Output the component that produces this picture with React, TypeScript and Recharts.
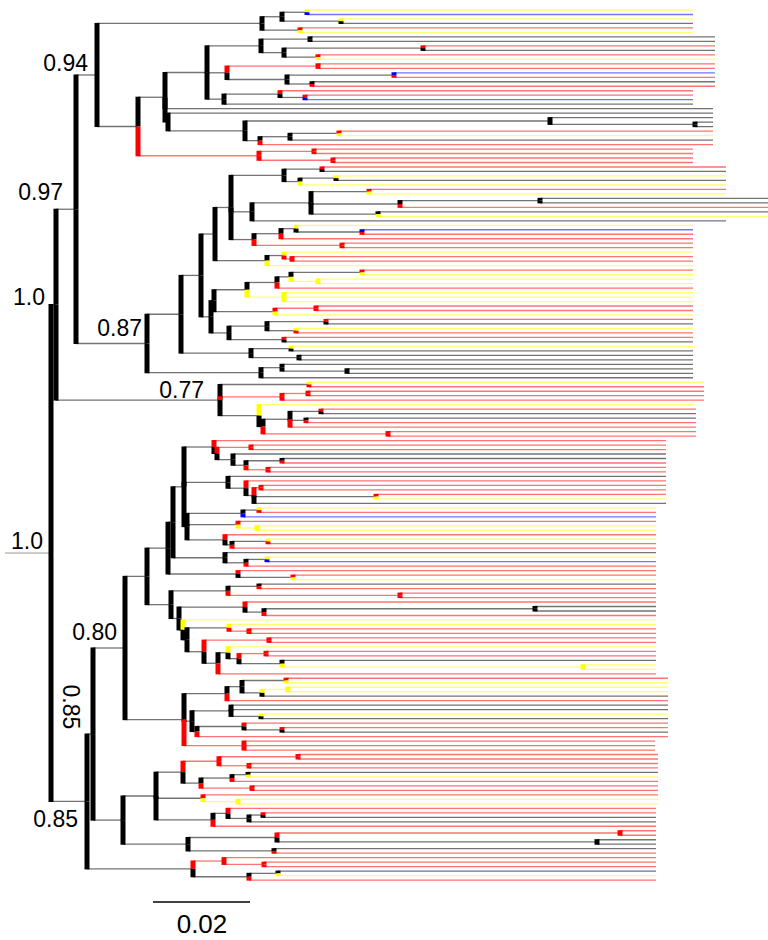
import React from 'react';
import { ComposedChart, XAxis, YAxis, Scatter, ReferenceLine } from 'recharts';

// leaf states top to bottom: k = black, r = red, y = yellow, b = blue
const leafStates = [
  'y','b','y','k','r','y','k','k','r','k',
  'r','y','r','r','b','r','k','r','r','r',
  'b','k','k','k','k','k','k','r','y','k',
  'r','r','r','r','r','r','k','y','k','y',
  'r','y','k','k','r','k','y','k','y','b',
  'r','r','r','r','y','r','r','y','r','y',
  'y','y','r','y','y','y','r','r','y','r',
  'k','y','r','r','k','y','k','k','k','k',
  'k','k','k','y','r','r','r','r','y','r',
  'k','k','r','r','r','r','r','r','r','k',
  'k','r','r','r','k','r','r','r','r','y',
  'k','y','r','b','r','y','y','r','y','r',
  'r','k','y','b','r','r','r','y','k','r',
  'r','r','r','k','k','r','y','y','r','r',
  'r','r','y','r','r','k','y','y','r','r',
  'y','y','y','k','r','k','k','y','k','r',
  'r','k','r','r','r','r','r','r','r','r',
  'k','y','r','r','r','r','y','y','r','r',
  'k','k','r','r','r','k','k','k','r','r',
  'r','r','k','y','r',
];

// leaf tip depth (tree units, the 0.02 scale bar is 97 units long)
const leafTips = [
  693,693,693,693,693,693,715,715,715,715,
  715,715,715,715,715,715,715,715,693,693,
  693,693,713,713,713,713,713,713,713,713,
  713,693,693,693,693,726,726,726,726,726,
  726,726,775,775,775,775,775,726,693,693,
  693,693,693,693,693,693,693,693,693,693,
  693,693,693,693,693,693,693,693,693,693,
  693,693,693,693,693,693,693,693,693,693,
  693,693,693,704,704,704,704,704,693,696,
  696,696,696,696,696,696,666,666,666,666,
  666,666,666,666,666,666,666,666,666,666,
  666,656,656,656,656,656,656,656,656,656,
  656,656,656,656,656,656,656,656,656,656,
  656,656,656,656,656,656,656,656,656,656,
  656,656,656,656,656,656,656,656,656,668,
  668,668,668,668,668,668,668,668,668,668,
  668,668,668,655,655,655,658,658,658,658,
  658,658,658,658,658,658,658,658,656,656,
  656,656,656,656,656,656,656,656,656,656,
  656,656,656,656,656,
];

// topology: '#' = next leaf, number after ')' = node depth
const clade094 =
  '((((#,#)307,(#,#)341)282,(#,#)300)262,(((((#,#)310,((#,#)423,(#,#)318)284)261,' +
  '((#,#)318,((#,#)394,(#,#)312)287)227,((#,(#,#)305)280,#)224)207,#,' +
  '(#,((#,(#,#)695)550,(((#,#)339,#)290,#)260)245)168)165,((#,#)314,(#,#)333)259)138)97';

const sub231 =
  '(((#,#)322,((#,#)336,#)300)284,(((#,#)369,((#,#)540,#)400,(#,#)378)311,#)252,' +
  '(((#,(#,#)362)296,#)281,(#,#)342)254)231';
const sub210 =
  '((((((#,#)362,(#,#)318)291,#)277,(#,#,#)284)247,((#,#)316,#)275)214,' +
  '(((#,#)326,(#,#)296)267,(#,#)284)229)211';
const clade087 =
  `((((${sub231},((#,(#,#)292)284,#)267)215,${sub210})201,((#,#)291,(#,#)299)251)181,` +
  '((#,(#,#)347)282,#)261)147';

const clade077 = '((#,#)309,((#,#)308,#)282,(#,(((#,#)321,(#,#)306,#)290,(#,#)388)263)259)220';

const sub184 =
  '((#,((#,#)251,(#,((#,#)282,(#,#)268)246)233)217)214,' +
  '(#,(#,((#,#)261,(#,#)376,#)254)246)228,' +
  '(((#,#)259,#)243,(#,(#,#)257)238,(#,((#,#)268,#)232)225)187)184';
const sub171 =
  '(((#,#)259,(#,#)400)228,((#,((#,#)535,#)264)245,(#,((#,(#,#)249)229,' +
  '((#,#)269,((#,((#,#)266,(#,(#,#)583)282)239)228,#)218)204)187)183)179)171';
const sub184b =
  '((((#,#)286,((#,#)288,#)262)242,#)227,((#,#,(#,#)261)231,((#,(#,#)282)244,#)197)192,(#,#,#)244)184';
const clade080 =
  `((((${sub184},(#,((#,#)267,#)246)225)173,(#,(#,#)293)238)168,${sub171})147,${sub184b})125`;

const clade123 =
  '(((((#,#)298,(#,#)249)219,(((#,#)248,#)232,(#,#)252)201)183,(#,(#,#)238)203,' +
  '((#,((#,#)263,#)249)228,#)213)156,(((#,#)620,(#,#)597)277,(#,#)274)188)123';

const clade193 = '((#,(#,#)264)224,((#,#)278,#)249)193';

const treeSource = `(((${clade094},${clade087})76,${clade077})56,((${clade080},${clade123})93,${clade193})87)51`;

// support values and scale bar text (x in tree units, row = leaf row)
const supportLabels = [
  { x: 88, row: 13.6, text: '0.94', size: 23, anchor: 'end', rotate: 0 },
  { x: 63, row: 42.36, text: '0.97', size: 23, anchor: 'end', rotate: 0 },
  { x: 45, row: 65.77, text: '1.0', size: 23, anchor: 'end', rotate: 0 },
  { x: 142, row: 72.69, text: '0.87', size: 23, anchor: 'end', rotate: 0 },
  { x: 204, row: 86.51, text: '0.77', size: 23, anchor: 'end', rotate: 0 },
  { x: 43, row: 120.18, text: '1.0', size: 23, anchor: 'end', rotate: 0 },
  { x: 117, row: 140.47, text: '0.80', size: 23, anchor: 'end', rotate: 0 },
  { x: 71, row: 155.4, text: '0.85', size: 23, anchor: 'middle', rotate: 90 },
  { x: 78, row: 182.16, text: '0.85', size: 23, anchor: 'end', rotate: 0 },
  { x: 202, row: 205.8, text: '0.02', size: 26, anchor: 'middle', rotate: 0 },
];

const SCALE_BAR = { x: 153, length: 97, row: 198.9 };
const STEM_START = 5;

const COLORS: Record<string, string> = { k: '#000000', r: '#ff0000', y: '#ffff00', b: '#0000ff' };
const W = 768;
const H = 940;
const ROW_PX = 4.485;
const FIRST_ROW_PX = 10;
const FONT = '"Liberation Sans", Arial, sans-serif';

type TreeNode = { x: number; row: number; state: string; children: TreeNode[] };

function parseTree(src: string): TreeNode {
  let pos = 0;
  let leaf = 0;
  const num = () => {
    const m = /^[0-9.]+/.exec(src.slice(pos));
    if (!m) return 0;
    pos += m[0].length;
    return parseFloat(m[0]);
  };
  const read = (): TreeNode => {
    if (src[pos] === '(') {
      pos++;
      const children: TreeNode[] = [];
      for (;;) {
        children.push(read());
        if (src[pos] === ',') { pos++; continue; }
        break;
      }
      pos++;
      const x = num();
      const row = (children[0].row + children[children.length - 1].row) / 2;
      const s = children[0].state;
      const state = children.every((c) => c.state === s) ? s : 'k';
      return { x, row, state, children };
    }
    pos++;
    const i = leaf++;
    return { x: leafTips[i], row: i, state: leafStates[i], children: [] };
  };
  return read();
}

const root = parseTree(treeSource.replace(/\s/g, ''));

type Seg = { x1: number; y1: number; x2: number; y2: number; color: string };
const lines: Seg[] = [];
const bars: Seg[] = [];
const walk = (n: TreeNode) => {
  n.children.forEach((c) => {
    lines.push({ x1: n.x, y1: c.row, x2: c.x, y2: c.row, color: COLORS[c.state] });
    const dir = c.row >= n.row ? 1 : -1;
    bars.push({ x1: n.x, y1: n.row, x2: n.x, y2: c.row + dir * 0.12, color: COLORS[c.state] });
    walk(c);
  });
};
walk(root);

const renderLabel = (props: any) => {
  const { cx, cy } = props;
  const d = props.payload ?? props;
  if (d.rotate) {
    return (
      <text x={cx} y={cy + 8} textAnchor="middle" fontSize={d.size} fontFamily={FONT} fill="#000"
        transform={`rotate(${d.rotate} ${cx} ${cy})`}>{d.text}</text>
    );
  }
  return (
    <text x={cx} y={cy} textAnchor={d.anchor} fontSize={d.size} fontFamily={FONT} fill="#000">{d.text}</text>
  );
};

export default function App() {
  return (
    <div style={{ position: 'absolute', left: 0, top: 0, width: W, height: H, background: '#fff' }}>
      <ComposedChart width={W} height={H} margin={{ top: 0, right: 0, bottom: 0, left: 0 }}>
        <XAxis type="number" dataKey="x" domain={[0, W]} hide allowDataOverflow />
        <YAxis type="number" dataKey="row" domain={[-FIRST_ROW_PX / ROW_PX, (H - FIRST_ROW_PX) / ROW_PX]}
          reversed hide allowDataOverflow />
        <ReferenceLine segment={[{ x: STEM_START, y: root.row }, { x: root.x, y: root.row }]}
          stroke="#999" strokeWidth={1} ifOverflow="visible" />
        {lines.map((s, i) => (
          <ReferenceLine key={`l${i}`} segment={[{ x: s.x1, y: s.y1 }, { x: s.x2, y: s.y2 }]}
            stroke={s.color} strokeWidth={1.3} strokeOpacity={0.55} ifOverflow="visible" />
        ))}
        {bars.map((s, i) => (
          <ReferenceLine key={`b${i}`} segment={[{ x: s.x1, y: s.y1 }, { x: s.x2, y: s.y2 }]}
            stroke={s.color} strokeWidth={5} ifOverflow="visible" />
        ))}
        <ReferenceLine segment={[{ x: SCALE_BAR.x, y: SCALE_BAR.row }, { x: SCALE_BAR.x + SCALE_BAR.length, y: SCALE_BAR.row }]}
          stroke="#000" strokeWidth={1.6} ifOverflow="visible" />
        <Scatter data={supportLabels} isAnimationActive={false} shape={renderLabel} />
      </ComposedChart>
    </div>
  );
}
